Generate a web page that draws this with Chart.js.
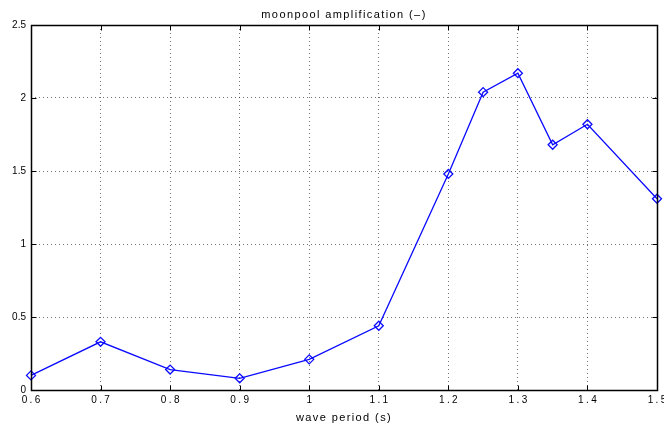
<!DOCTYPE html>
<html>
<head>
<meta charset="utf-8">
<script src="https://cdn.jsdelivr.net/npm/chart.js@4/dist/chart.umd.min.js"></script>
<style>
html,body{margin:0;padding:0;background:#fff;}
#wrap{width:664px;height:433px;}
</style>
</head>
<body>
<div id="wrap"><canvas id="c" width="664" height="433"></canvas></div>
<script>
const wavePeriods = [0.6, 0.7, 0.8, 0.9, 1.0, 1.1, 1.2, 1.25, 1.3, 1.35, 1.4, 1.5];
const amplification = [0.10, 0.33, 0.14, 0.08, 0.21, 0.44, 1.48, 2.04, 2.17, 1.68, 1.82, 1.31];
const xTickValues = [0.6, 0.7, 0.8, 0.9, 1.0, 1.1, 1.2, 1.3, 1.4, 1.5];
const yTickValues = [0, 0.5, 1, 1.5, 2, 2.5];
const chartTitle = 'moonpool amplification (–)';
const xTitle = 'wave period (s)';

const FONT = "'Liberation Sans', Arial, Helvetica, sans-serif";
const TITLE_SPACING = 1.4;
const XTICK_SPACING = 2.4;

function wrapScale(s, spacing) {
  if (s._lsWrapped) return;
  s._lsWrapped = true;
  const orig = s.drawLabels.bind(s);
  s.drawLabels = function (ca) {
    const ctx = s.ctx;
    const prev = ctx.letterSpacing;
    ctx.save();
    ctx.letterSpacing = spacing + 'px';
    ctx.translate(spacing / 2, 0);
    orig(ca);
    ctx.restore();
    ctx.letterSpacing = prev;
  };
}

const boxPlugin = {
  id: 'boxPlugin',
  beforeDraw(chart) {
    chart.ctx.letterSpacing = TITLE_SPACING + 'px';
  },
  afterDraw(chart) {
    const {ctx, chartArea: a, scales} = chart;
    ctx.letterSpacing = '0px';
    ctx.save();
    ctx.strokeStyle = '#000';
    ctx.setLineDash([]);
    const L = Math.round(a.left) + 0.5, R = Math.round(a.right) + 0.5;
    const T = Math.round(a.top) + 0.5, B = Math.round(a.bottom) + 0.5;
    ctx.lineWidth = 1.5;
    ctx.strokeRect(L, T, R - L, B - T);
    ctx.lineWidth = 1;
    const tl = 5;
    ctx.beginPath();
    xTickValues.forEach(v => {
      const x = Math.round(scales.x.getPixelForValue(v)) + 0.5;
      ctx.moveTo(x, B); ctx.lineTo(x, B - tl);
      ctx.moveTo(x, T); ctx.lineTo(x, T + tl);
    });
    yTickValues.forEach(v => {
      const y = Math.round(scales.y.getPixelForValue(v)) + 0.5;
      ctx.moveTo(L, y); ctx.lineTo(L + tl, y);
      ctx.moveTo(R, y); ctx.lineTo(R - tl, y);
    });
    ctx.stroke();
    ctx.restore();
  }
};

new Chart(document.getElementById('c'), {
  type: 'line',
  data: {
    datasets: [{
      data: wavePeriods.map((x, i) => ({x: x, y: amplification[i]})),
      borderColor: '#0a0aff',
      borderWidth: 1.3,
      pointStyle: 'rectRot',
      pointRadius: 4.5,
      pointBorderWidth: 1.3,
      pointBorderColor: '#0a0aff',
      pointBackgroundColor: 'rgba(0,0,0,0)',
      tension: 0,
      fill: false,
      clip: false
    }]
  },
  options: {
    responsive: false,
    animation: false,
    devicePixelRatio: 1,
    layout: {padding: {left: 0, right: 7, top: 0, bottom: 0}},
    plugins: {
      legend: {display: false},
      tooltip: {enabled: false},
      title: {
        display: true,
        fullSize: false,
        text: chartTitle,
        color: '#000',
        font: {family: FONT, size: 11, weight: 'normal', lineHeight: 1.2},
        padding: {top: 8, bottom: 3.8}
      }
    },
    scales: {
      x: {
        type: 'linear',
        min: 0.6, max: 1.5,
        afterBuildTicks: s => { s.ticks = xTickValues.map(v => ({value: v})); },
        afterFit: s => { s.height = 43; s.paddingLeft = 0; s.paddingRight = 0; },
        afterUpdate: s => wrapScale(s, XTICK_SPACING),
        ticks: {
          color: '#000',
          font: {family: FONT, size: 10},
          padding: 4,
          maxRotation: 0,
          autoSkip: false,
          callback: v => String(Math.round(v * 10) / 10)
        },
        grid: {color: 'rgba(0,0,0,0.55)', lineWidth: 1, drawTicks: false},
        border: {display: false, dash: [1, 3]},
        title: {
          display: true,
          text: xTitle,
          color: '#000',
          font: {family: FONT, size: 11},
          padding: {top: 0, bottom: 8}
        }
      },
      y: {
        type: 'linear',
        min: 0, max: 2.5,
        afterBuildTicks: s => { s.ticks = yTickValues.map(v => ({value: v})); },
        afterFit: s => { s.width = 31; s.paddingTop = 0; s.paddingBottom = 0; },
        afterUpdate: s => wrapScale(s, 0),
        ticks: {
          color: '#000',
          font: {family: FONT, size: 10},
          padding: 5,
          callback: v => String(v)
        },
        grid: {color: 'rgba(0,0,0,0.55)', lineWidth: 1, drawTicks: false},
        border: {display: false, dash: [1, 3]}
      }
    }
  },
  plugins: [boxPlugin]
});
</script>
</body>
</html>
